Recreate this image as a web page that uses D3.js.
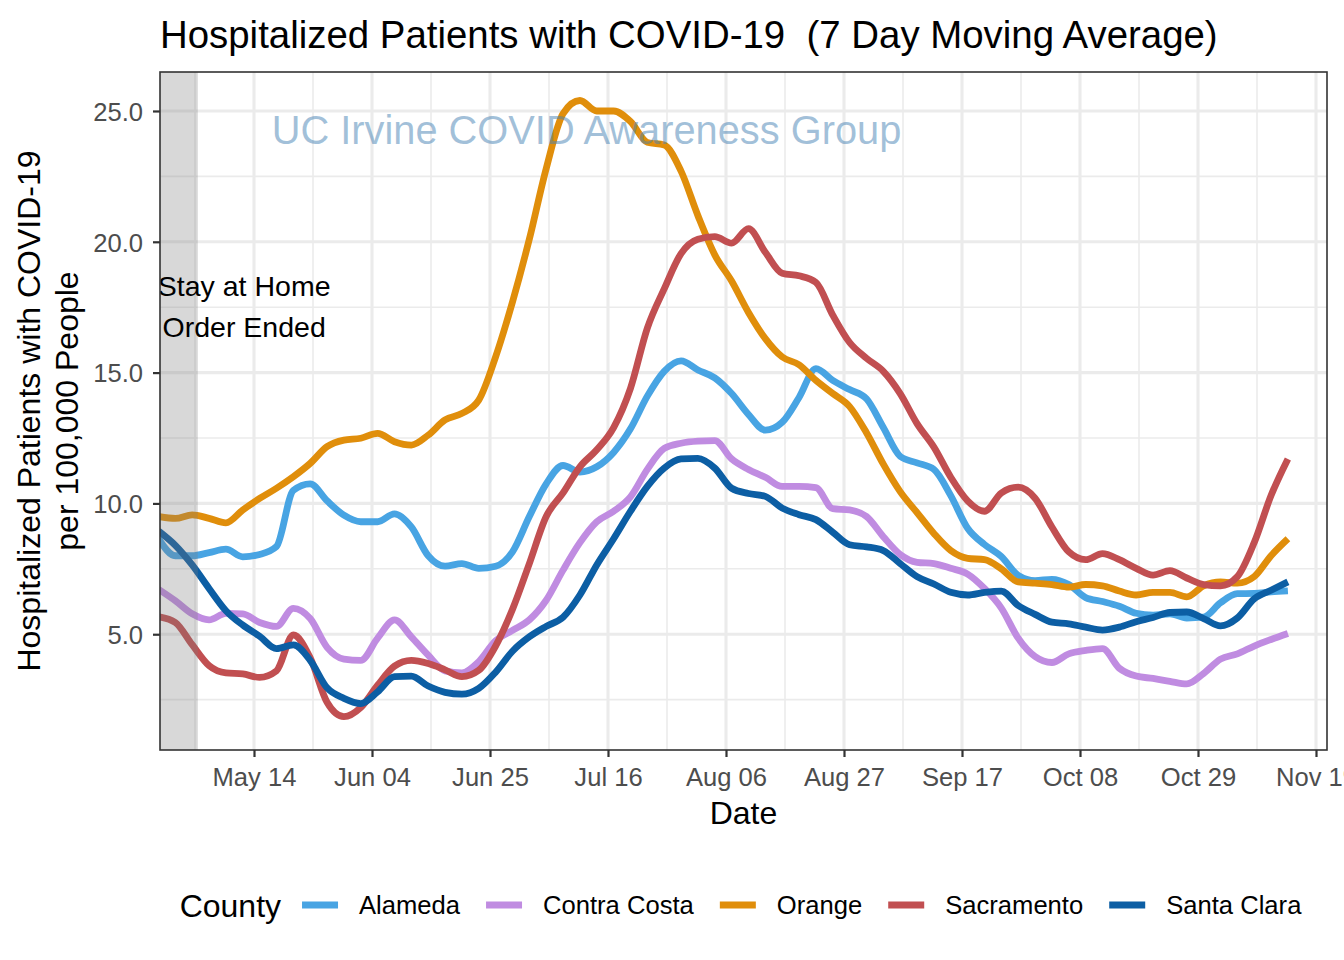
<!DOCTYPE html>
<html><head><meta charset="utf-8">
<script src="https://cdn.jsdelivr.net/npm/d3@7"></script>
<style>
body{margin:0;background:#fff}
svg text{font-family:"Liberation Sans",Arial,Helvetica,sans-serif}
</style>
</head><body>
<svg id="chart" width="1344" height="960"></svg>
<script>
// ---------------- DATA ----------------
const dates = ["2020-04-27","2020-04-30","2020-05-03","2020-05-06","2020-05-09","2020-05-12","2020-05-15","2020-05-18","2020-05-21","2020-05-24","2020-05-27","2020-05-30","2020-06-02","2020-06-05","2020-06-08","2020-06-11","2020-06-14","2020-06-17","2020-06-20","2020-06-23","2020-06-26","2020-06-29","2020-07-02","2020-07-05","2020-07-08","2020-07-11","2020-07-14","2020-07-17","2020-07-20","2020-07-23","2020-07-26","2020-07-29","2020-08-01","2020-08-04","2020-08-07","2020-08-10","2020-08-13","2020-08-16","2020-08-19","2020-08-22","2020-08-25","2020-08-28","2020-08-31","2020-09-03","2020-09-06","2020-09-09","2020-09-12","2020-09-15","2020-09-18","2020-09-21","2020-09-24","2020-09-27","2020-09-30","2020-10-03","2020-10-06","2020-10-09","2020-10-12","2020-10-15","2020-10-18","2020-10-21","2020-10-24","2020-10-27","2020-10-30","2020-11-02","2020-11-05","2020-11-08","2020-11-11","2020-11-14"];

const alameda = [8.65,8.0,8.0,8.12,8.25,7.96,8.05,8.35,10.5,10.75,10.1,9.55,9.3,9.3,9.6,9.1,8.0,7.6,7.7,7.52,7.6,8.15,9.5,10.75,11.45,11.2,11.4,11.95,12.85,14.1,15.05,15.45,15.1,14.8,14.2,13.4,12.8,13.1,14.05,15.15,14.7,14.35,14.0,12.9,11.8,11.55,11.3,10.3,9.05,8.43,7.97,7.25,7.05,7.1,6.9,6.4,6.25,6.07,5.8,5.73,5.78,5.62,5.65,6.2,6.55,6.56,6.62,6.66];
const contraCosta = [6.72,6.28,5.78,5.55,5.8,5.78,5.45,5.3,5.99,5.6,4.5,4.05,4.0,4.85,5.55,4.9,4.2,3.6,3.52,3.95,4.75,5.15,5.55,6.3,7.45,8.5,9.3,9.7,10.25,11.3,12.1,12.3,12.38,12.4,11.7,11.3,11.0,10.65,10.65,10.6,9.8,9.75,9.5,8.73,8.05,7.75,7.7,7.52,7.3,6.75,6.0,4.85,4.15,3.92,4.25,4.38,4.45,3.7,3.4,3.31,3.2,3.1,3.5,4.05,4.25,4.55,4.8,5.03];
const orange = [9.5,9.43,9.56,9.43,9.26,9.75,10.19,10.58,11.02,11.53,12.17,12.42,12.49,12.68,12.36,12.23,12.61,13.19,13.44,13.95,15.6,17.7,20.1,22.8,24.9,25.4,25.0,25.0,24.6,23.8,23.7,22.7,21.0,19.5,18.5,17.3,16.3,15.6,15.3,14.7,14.2,13.7,12.7,11.5,10.45,9.65,8.85,8.2,7.9,7.85,7.5,7.0,6.95,6.9,6.8,6.9,6.85,6.65,6.5,6.6,6.6,6.43,6.85,7.0,6.95,7.2,8.0,8.65];
const sacramento = [5.67,5.45,4.6,3.8,3.52,3.48,3.35,3.6,4.97,4.1,2.4,1.85,2.2,3.05,3.78,4.0,3.88,3.64,3.38,3.62,4.55,5.95,7.7,9.5,10.4,11.4,12.05,12.9,14.4,16.7,18.2,19.55,20.1,20.2,19.95,20.5,19.6,18.8,18.7,18.45,17.2,16.15,15.55,15.05,14.2,13.05,12.15,11.0,10.1,9.7,10.4,10.62,10.2,9.1,8.15,7.85,8.08,7.85,7.52,7.26,7.43,7.15,6.9,6.85,7.2,8.5,10.3,11.7];
const santaClara = [8.95,8.4,7.65,6.75,5.9,5.35,4.92,4.45,4.59,4.0,2.95,2.55,2.35,2.8,3.38,3.4,3.02,2.78,2.71,2.93,3.55,4.35,4.9,5.3,5.65,6.5,7.65,8.65,9.7,10.65,11.35,11.7,11.72,11.35,10.58,10.38,10.27,9.82,9.57,9.38,8.9,8.42,8.34,8.2,7.7,7.2,6.92,6.6,6.5,6.6,6.65,6.1,5.76,5.46,5.4,5.27,5.16,5.27,5.48,5.64,5.83,5.85,5.6,5.32,5.62,6.35,6.68,7.0];

const counties = ["Alameda","Contra Costa","Orange","Sacramento","Santa Clara"];
const seriesValues = [alameda, contraCosta, orange, sacramento, santaClara];
const colors = ["#48a4e3","#c08ce1","#e08e0b","#c14f51","#0c5ea4"];

const xTickDates = ["2020-05-14","2020-06-04","2020-06-25","2020-07-16","2020-08-06","2020-08-27","2020-09-17","2020-10-08","2020-10-29","2020-11-19"];
const xMinorDates = ["2020-05-03T12:00","2020-05-24T12:00","2020-06-14T12:00","2020-07-05T12:00","2020-07-26T12:00","2020-08-16T12:00","2020-09-06T12:00","2020-09-27T12:00","2020-10-18T12:00","2020-11-08T12:00"];
const yTicks = [5,10,15,20,25];
const yMinor = [2.5,7.5,12.5,17.5,22.5];
const xDomain = ["2020-04-27T06:30","2020-11-20T23:00"];
const yDomain = [0.575, 26.49];
const shadeRange = ["2020-04-20","2020-05-04"];
const noteLines = ["Stay at Home","Order Ended"];
const noteAt = {date:"2020-05-12T06:00", value:17.5};
const titleText = "Hospitalized Patients with COVID-19  (7 Day Moving Average)";
const yTitleLines = ["Hospitalized Patients with COVID-19","per 100,000 People"];
const watermark = "UC Irvine COVID Awareness Group";

// ---------------- DRAW ----------------
const svg = d3.select("#chart");
const P = {left:160, top:72, right:1327, bottom:750};
const pIso = d3.utcParse("%Y-%m-%d");
const pIsoT = d3.utcParse("%Y-%m-%dT%H:%M");
const pd = s => pIso(s) || pIsoT(s);

const x = d3.scaleUtc().domain(xDomain.map(pd)).range([P.left, P.right]);
const y = d3.scaleLinear().domain(yDomain).range([P.bottom, P.top]);

svg.append("rect").attr("width",1344).attr("height",960).attr("fill","#fff");

svg.append("defs").append("clipPath").attr("id","pclip")
  .append("rect").attr("x",P.left).attr("y",P.top).attr("width",P.right-P.left).attr("height",P.bottom-P.top);

const grid = svg.append("g");
const gc = "#ebebeb";
grid.selectAll(".ymin").data(yMinor).join("line")
  .attr("x1",P.left).attr("x2",P.right).attr("y1",d=>y(d)).attr("y2",d=>y(d))
  .attr("stroke",gc).attr("stroke-width",1.55);
grid.selectAll(".xmin").data(xMinorDates.map(pd)).join("line")
  .attr("y1",P.top).attr("y2",P.bottom).attr("x1",d=>x(d)).attr("x2",d=>x(d))
  .attr("stroke",gc).attr("stroke-width",1.55);
grid.selectAll(".ymaj").data(yTicks).join("line")
  .attr("x1",P.left).attr("x2",P.right).attr("y1",d=>y(d)).attr("y2",d=>y(d))
  .attr("stroke",gc).attr("stroke-width",3.1);
grid.selectAll(".xmaj").data(xTickDates.map(pd)).join("line")
  .attr("y1",P.top).attr("y2",P.bottom).attr("x1",d=>x(d)).attr("x2",d=>x(d))
  .attr("stroke",gc).attr("stroke-width",3.1);

const plot = svg.append("g").attr("clip-path","url(#pclip)");
const parsedDates = dates.map(pd);
const line = d3.line().x(d=>x(d[0])).y(d=>y(d[1])).curve(d3.curveMonotoneX);
seriesValues.forEach((vals,i)=>{
  plot.append("path").datum(parsedDates.map((d,j)=>[d,vals[j]]))
    .attr("d",line).attr("fill","none").attr("stroke",colors[i])
    .attr("stroke-width",6.8).attr("stroke-linejoin","round").attr("stroke-linecap","butt");
});

// shaded stay-at-home period
plot.append("rect")
  .attr("x",x(pd(shadeRange[0]))).attr("width",x(pd(shadeRange[1]))-x(pd(shadeRange[0])))
  .attr("y",P.top).attr("height",P.bottom-P.top)
  .attr("fill","#7f7f7f").attr("fill-opacity",0.3);

// annotation
const nx = x(pd(noteAt.date)), ny = y(noteAt.value);
plot.append("text").attr("x",nx).attr("y",ny-11.5).attr("text-anchor","middle")
  .attr("font-size",28.5).attr("fill","#000").text(noteLines[0]);
plot.append("text").attr("x",nx).attr("y",ny+30).attr("text-anchor","middle")
  .attr("font-size",28.5).attr("fill","#000").text(noteLines[1]);

// watermark
svg.append("text").attr("x",586.5).attr("y",143.5).attr("text-anchor","middle")
  .attr("font-size",39.8).attr("fill","steelblue").attr("fill-opacity",0.5).text(watermark);

// border
svg.append("rect").attr("x",P.left).attr("y",P.top).attr("width",P.right-P.left).attr("height",P.bottom-P.top)
  .attr("fill","none").attr("stroke","#333333").attr("stroke-width",1.6);

// axes
const xAxis = d3.axisBottom(x).tickValues(xTickDates.map(pd)).tickFormat(d3.utcFormat("%b %d")).tickSize(7).tickPadding(5);
const gx = svg.append("g").attr("transform",`translate(0,${P.bottom})`).call(xAxis);
gx.select(".domain").remove();
gx.selectAll(".tick line").attr("stroke","#333333").attr("stroke-width",2.2);
gx.selectAll(".tick text").attr("font-size",25.6).attr("fill","#4d4d4d").attr("dy",null).attr("y",36);

const yAxis = d3.axisLeft(y).tickValues(yTicks).tickFormat(d3.format(".1f")).tickSize(7).tickPadding(5);
const gy = svg.append("g").attr("transform",`translate(${P.left},0)`).call(yAxis);
gy.select(".domain").remove();
gy.selectAll(".tick line").attr("stroke","#333333").attr("stroke-width",2.2);
gy.selectAll(".tick text").attr("font-size",25.6).attr("fill","#4d4d4d").attr("x",-17).attr("dy","0.36em");

// titles
svg.append("text").attr("x",P.left).attr("y",47.5).attr("font-size",38.4).attr("fill","#000")
  .style("white-space","pre").attr("xml:space","preserve").text(titleText);
svg.append("text").attr("x",(P.left+P.right)/2).attr("y",823.5).attr("text-anchor","middle")
  .attr("font-size",32).attr("fill","#000").text("Date");
yTitleLines.forEach((t,i)=>{
  svg.append("text").attr("transform",`translate(${40+i*38},${(P.top+P.bottom)/2}) rotate(-90)`)
    .attr("text-anchor","middle").attr("font-size",32).attr("fill","#000").text(t);
});

// legend
const lg = svg.append("g");
const lt = lg.append("text").attr("x",0).attr("y",916.5).attr("font-size",32).attr("fill","#000").text("County");
let cx = lt.node().getComputedTextLength() + 21;
counties.forEach((c,i)=>{
  lg.append("line").attr("x1",cx).attr("x2",cx+36).attr("y1",905).attr("y2",905)
    .attr("stroke",colors[i]).attr("stroke-width",6.8);
  cx += 36 + 21;
  const t = lg.append("text").attr("x",cx).attr("y",914).attr("font-size",25.6).attr("fill","#000").text(c);
  cx += t.node().getComputedTextLength() + (i<counties.length-1 ? 26 : 0);
});
lg.attr("transform",`translate(${(P.left+P.right)/2 - cx/2 - 3},0)`);
</script>
</body></html>
